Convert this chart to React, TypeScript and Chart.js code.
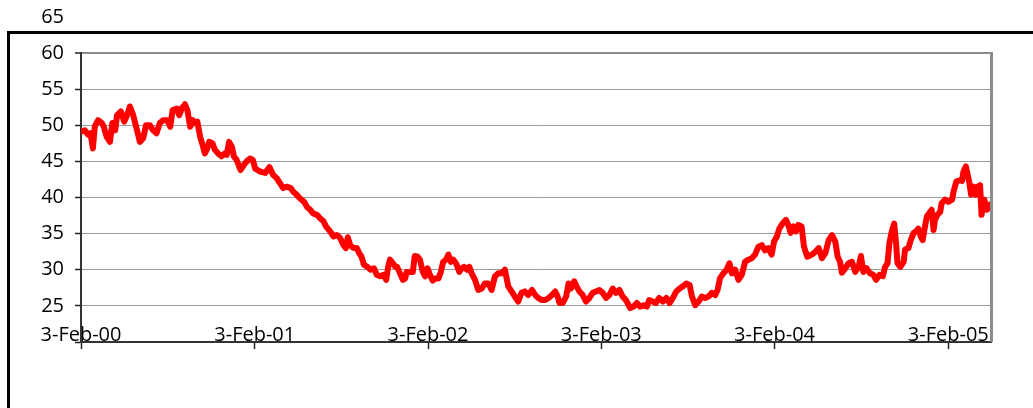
import React, { useEffect, useRef } from "react";
import { Chart, registerables } from "chart.js";

Chart.register(...registerables);

// Days elapsed since 3-Feb-00 for each reading
const dayOffsets = [
  0, 8, 15, 20, 25, 29, 36, 44, 48, 54, 61, 66, 72, 76, 84, 91, 96, 103, 110, 117,
  124, 131, 137, 145, 152, 159, 166, 173, 182, 188, 193, 202, 207, 212, 219, 224, 230, 235, 240, 245,
  251, 256, 261, 266, 270, 277, 282, 289, 296, 303, 307, 312, 318, 322, 328, 336, 343, 349, 356, 362,
  367, 377, 388, 397, 405, 412, 419, 426, 433, 442, 447, 454, 461, 470, 476, 483, 489, 497, 504, 511,
  516, 525, 532, 539, 546, 553, 558, 562, 567, 574, 581, 586, 591, 596, 603, 610, 617, 623, 630, 637,
  643, 647, 651, 657, 662, 666, 672, 678, 683, 686, 693, 699, 703, 709, 714, 720, 725, 730, 735, 741,
  746, 753, 758, 763, 769, 774, 779, 784, 790, 797, 802, 807, 813, 818, 823, 830, 837, 844, 851, 858,
  865, 872, 879, 886, 893, 900, 907, 914, 921, 928, 935, 942, 950, 957, 963, 971, 978, 985, 992, 999,
  1004, 1008, 1015, 1022, 1027, 1032, 1039, 1044, 1050, 1057, 1064, 1071, 1078, 1085, 1092, 1099, 1106, 1113, 1120, 1127,
  1134, 1141, 1148, 1157, 1164, 1171, 1178, 1185, 1192, 1197, 1204, 1211, 1218, 1226, 1233, 1240, 1247, 1254, 1261, 1268,
  1275, 1282, 1287, 1294, 1301, 1308, 1315, 1322, 1329, 1336, 1341, 1346, 1353, 1360, 1366, 1371, 1378, 1385, 1392, 1399,
  1406, 1413, 1420, 1427, 1434, 1441, 1448, 1455, 1460, 1466, 1471, 1478, 1485, 1490, 1495, 1501, 1506, 1511, 1518, 1523,
  1530, 1540, 1547, 1554, 1561, 1568, 1575, 1582, 1589, 1594, 1599, 1603, 1610, 1617, 1624, 1631, 1638, 1643, 1648, 1655,
  1662, 1669, 1675, 1682, 1689, 1694, 1699, 1703, 1708, 1713, 1717, 1720, 1726, 1733, 1736, 1743, 1748, 1754, 1759, 1764,
  1769, 1773, 1778, 1782, 1789, 1792, 1796, 1799, 1804, 1810, 1813, 1820, 1827, 1835, 1838, 1844, 1851, 1856, 1859, 1864,
  1868, 1871, 1875, 1880, 1885, 1889, 1894, 1897, 1903, 1908, 1914, 1917,
];

const prices = [
  49.1, 49.3, 48.7, 48.9, 46.8, 49.8, 50.7, 50.3, 49.8, 48.4, 47.7, 50.3, 49.3, 51.4, 51.9, 50.5, 51.2, 52.6, 51.4, 49.6,
  47.7, 48.2, 50.0, 50.0, 49.3, 48.9, 50.3, 50.7, 50.7, 49.8, 52.1, 52.3, 51.4, 52.3, 52.9, 52.1, 49.8, 50.7, 50.3, 50.5,
  48.4, 47.3, 46.1, 46.8, 47.7, 47.5, 46.6, 46.1, 45.7, 46.1, 45.9, 47.7, 47.0, 45.7, 45.2, 43.8, 44.5, 45.0, 45.4, 45.2,
  44.0, 43.6, 43.4, 44.2, 43.1, 42.7, 42.0, 41.3, 41.5, 41.3, 40.8, 40.4, 39.9, 39.4, 38.7, 38.3, 37.8, 37.6, 37.1, 36.7,
  36.0, 35.3, 34.6, 34.8, 34.4, 33.4, 33.0, 34.5, 33.4, 33.0, 33.0, 32.3, 31.8, 30.7, 30.4, 30.0, 30.2, 29.3, 29.1, 29.3,
  28.6, 30.4, 31.4, 30.9, 30.4, 30.4, 29.5, 28.6, 28.8, 29.7, 29.7, 29.7, 31.9, 31.8, 31.4, 29.7, 29.1, 30.2, 29.3, 28.5,
  28.8, 28.8, 29.7, 31.1, 31.4, 32.1, 31.1, 31.4, 30.9, 29.7, 30.2, 30.4, 30.0, 30.4, 29.5, 28.6, 27.2, 27.4, 28.1, 28.1,
  27.2, 29.1, 29.5, 29.5, 30.0, 27.7, 27.0, 26.3, 25.6, 26.8, 27.0, 26.5, 27.2, 26.5, 26.1, 25.8, 25.8, 26.1, 26.5, 27.0,
  26.3, 25.4, 25.4, 26.3, 28.1, 27.4, 28.4, 27.7, 27.0, 26.5, 25.6, 26.1, 26.8, 27.0, 27.2, 26.8, 26.1, 26.5, 27.4, 26.8,
  27.2, 26.3, 25.8, 24.7, 24.9, 25.4, 24.9, 25.1, 24.9, 25.8, 25.6, 25.4, 26.1, 25.6, 26.1, 25.4, 26.1, 27.0, 27.4, 27.7,
  28.1, 27.9, 26.3, 25.1, 25.6, 26.3, 26.1, 26.3, 26.8, 26.5, 27.2, 28.8, 29.5, 30.0, 30.9, 29.5, 30.0, 28.6, 29.3, 31.1,
  31.4, 31.6, 32.1, 33.2, 33.4, 32.7, 33.0, 32.1, 33.9, 34.6, 35.7, 36.4, 36.9, 36.2, 35.1, 36.0, 35.3, 36.2, 36.0, 33.2,
  31.8, 32.1, 32.5, 33.0, 31.6, 32.3, 34.1, 34.8, 33.9, 31.8, 31.1, 29.6, 30.2, 30.9, 31.1, 29.7, 30.4, 31.9, 29.7, 30.2,
  29.5, 29.3, 28.6, 29.3, 29.1, 30.4, 30.9, 33.7, 35.3, 36.4, 33.7, 30.9, 30.4, 31.1, 32.8, 33.0, 34.1, 35.1, 35.3, 35.7,
  34.6, 34.1, 36.0, 37.4, 38.0, 38.3, 35.5, 36.9, 37.6, 38.0, 39.2, 39.7, 39.4, 39.7, 40.8, 42.2, 42.4, 42.3, 43.6, 44.3,
  43.1, 42.2, 40.4, 41.5, 40.4, 41.5, 41.7, 37.6, 39.7, 38.3, 39.0, 38.5,
];

const xTickDays = [0, 366, 731, 1096, 1461, 1827];
const xTickLabels = ["3-Feb-00", "3-Feb-01", "3-Feb-02", "3-Feb-03", "3-Feb-04", "3-Feb-05"];
const yMin = 20;
const yMax = 60;
const yStep = 5;
const yExtraLabel = "65";
const xMaxDay = 1917;

const FONT = "'Open Sans', 'DejaVu Sans', sans-serif";

export default function App() {
  const ref = useRef<HTMLCanvasElement>(null);

  useEffect(() => {
    const framePlugin = {
      id: "frame",
      beforeDraw(chart: any) {
        const ctx = chart.ctx;
        ctx.save();
        ctx.fillStyle = "#000";
        ctx.fillRect(7, 31, 1040, 3);
        ctx.fillRect(7, 31, 3, 400);
        ctx.restore();
      },
      afterDraw(chart: any) {
        const ctx = chart.ctx;
        const a = chart.chartArea;
        ctx.save();
        ctx.strokeStyle = "#8c8c8c";
        ctx.lineWidth = 3;
        ctx.beginPath();
        ctx.moveTo(a.right + 0.5, a.top - 1);
        ctx.lineTo(a.right + 0.5, a.bottom);
        ctx.stroke();
        const yScale = chart.scales.y;
        const step = yScale.getPixelForValue(yMax - yStep) - yScale.getPixelForValue(yMax);
        ctx.fillStyle = "#000";
        ctx.font = `20px ${FONT}`;
        ctx.textAlign = "right";
        ctx.textBaseline = "middle";
        ctx.fillText(yExtraLabel, a.left - 6 - 11, yScale.getPixelForValue(yMax) - step);
        ctx.restore();
      },
    };

    const chart = new Chart(ref.current!, {
      type: "line",
      data: {
        datasets: [
          {
            data: dayOffsets.map((d, i) => ({ x: d, y: prices[i] })),
            borderColor: "#ff0000",
            borderWidth: 6,
            pointRadius: 0,
            tension: 0,
            borderJoinStyle: "round",
            borderCapStyle: "round",
            fill: false,
          },
        ],
      },
      options: {
        animation: false,
        responsive: true,
        maintainAspectRatio: false,
        layout: { padding: { left: 0, right: 42, top: 53, bottom: 0 } },
        plugins: { legend: { display: false }, tooltip: { enabled: false } },
        font: { family: FONT, size: 20 },
        scales: {
          x: {
            type: "linear",
            min: 0,
            max: xMaxDay,
            afterBuildTicks: (scale: any) => {
              scale.ticks = xTickDays.map((v) => ({ value: v }));
            },
            afterFit: (scale: any) => {
              scale.height = 66;
            },
            ticks: {
              autoSkip: false,
              maxRotation: 0,
              mirror: true,
              padding: -5,
              color: "#000",
              font: { family: FONT, size: 20 },
              callback: (v: any) => {
                const i = xTickDays.indexOf(Number(v));
                return i >= 0 ? xTickLabels[i] : "";
              },
            },
            grid: {
              display: true,
              drawOnChartArea: false,
              drawTicks: true,
              tickLength: 7,
              tickColor: "#222",
              tickWidth: 1.5,
            },
            border: { display: true, color: "#333", width: 2 },
          },
          y: {
            type: "linear",
            min: yMin,
            max: yMax,
            afterFit: (scale: any) => {
              scale.width = 81;
            },
            ticks: {
              stepSize: yStep,
              padding: 11,
              color: "#000",
              font: { family: FONT, size: 20 },
              callback: (v: any) => (Number(v) === yMin ? "" : String(v)),
            },
            grid: {
              color: (c: any) =>
                c.tick && c.tick.value === yMin
                  ? "rgba(0,0,0,0)"
                  : c.tick && c.tick.value === yMax
                  ? "#8c8c8c"
                  : "#9a9a9a",
              lineWidth: (c: any) => (c.tick && c.tick.value === yMax ? 2 : 1),
              tickLength: 6,
              tickColor: "#222",
              tickWidth: 1.5,
            },
            border: { display: true, color: "#333", width: 2 },
          },
        },
      } as any,
      plugins: [framePlugin],
    });

    return () => chart.destroy();
  }, []);

  return (
    <div
      style={{
        position: "fixed",
        left: 0,
        top: 0,
        width: 1033,
        height: 408,
        background: "#fff",
      }}
    >
      <canvas ref={ref} />
    </div>
  );
}
